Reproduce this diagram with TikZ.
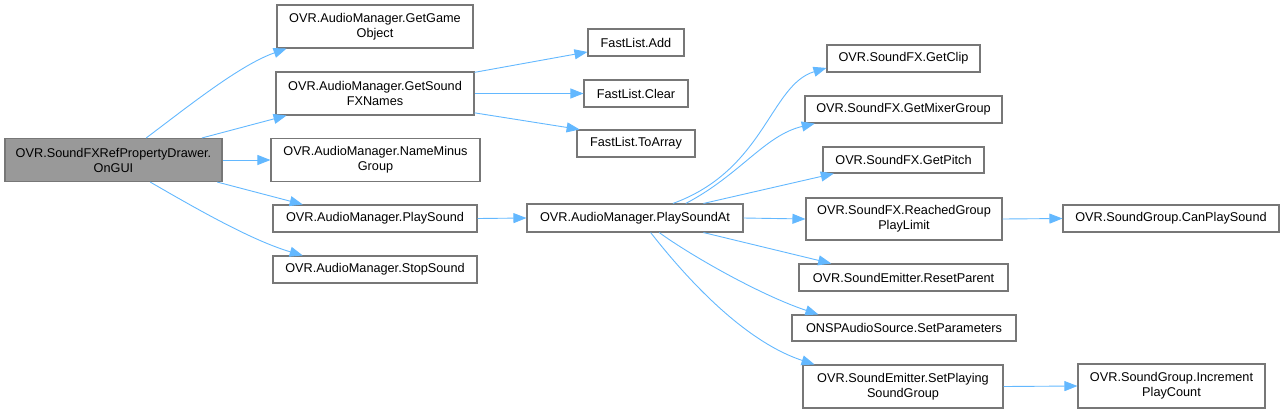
\documentclass[tikz,border=0pt]{standalone}
\usepackage{fontspec}
\setmainfont{Liberation Sans}
\usetikzlibrary{arrows.meta}
\definecolor{edgeblue}{HTML}{63B8FF}
\definecolor{boxgray}{HTML}{777777}
\definecolor{rootgray}{HTML}{999999}

\begin{document}
\begin{tikzpicture}[x=1pt,y=-1pt,
  fn/.style={draw=boxgray,fill=white,line width=1.1pt,inner sep=0pt,align=center,
    font=\fontsize{12.7}{15}\selectfont,minimum height=27pt},
  fn2/.style={fn,minimum height=43pt},
  call/.style={draw=edgeblue,line width=0.9pt,-{Triangle[length=13pt,width=10pt]}}]
\useasboundingbox (0,0) rectangle (1284,413);

% caller
\node[fn2,fill=rootgray,minimum width=217pt] (onGUI) at (113.5,160)
{OVR.SoundFXRefPropertyDrawer.\\OnGUI};

% audio manager
\node[fn2,minimum width=196pt] (getGameObj) at (375,26.5)
{OVR.AudioManager.GetGame\\Object};
\node[fn2,minimum width=198pt] (getFXNames) at (375,93.5)
{OVR.AudioManager.GetSound\\FXNames};
\node[fn2,minimum width=209pt] (nameMinus) at (375.5,160)
{OVR.AudioManager.NameMinus\\Group};
\node[fn,minimum width=204pt] (playSound) at (375,218.5)
{OVR.AudioManager.PlaySound};
\node[fn,minimum width=204pt] (stopSound) at (375,269.5)
{OVR.AudioManager.StopSound};
\node[fn,minimum width=216pt,minimum height=28pt] (playSoundAt) at (635,218)
{OVR.AudioManager.PlaySoundAt};

% fast list
\node[fn,minimum width=96pt] (listAdd) at (636,42.5)
{FastList.Add};
\node[fn,minimum width=104pt] (listClear) at (636,93.5)
{FastList.Clear};
\node[fn,minimum width=118pt] (listToArray) at (636,143.5)
{FastList.ToArray};

% sound fx / emitter
\node[fn,minimum width=153pt] (getClip) at (903.5,58.5)
{OVR.SoundFX.GetClip};
\node[fn,minimum width=197pt] (getMixer) at (903.5,109.5)
{OVR.SoundFX.GetMixerGroup};
\node[fn,minimum width=161pt,minimum height=26pt] (getPitch) at (903.5,160)
{OVR.SoundFX.GetPitch};
\node[fn2,minimum width=196pt,minimum height=42pt] (reachedLimit) at (904,219)
{OVR.SoundFX.ReachedGroup\\PlayLimit};
\node[fn,minimum width=209pt] (resetParent) at (903.5,277.5)
{OVR.SoundEmitter.ResetParent};
\node[fn,minimum width=224pt,minimum height=26pt] (setParams) at (904,328)
{ONSPAudioSource.SetParameters};
\node[fn2,minimum width=200pt] (setPlaying) at (903,386.5)
{OVR.SoundEmitter.SetPlaying\\SoundGroup};

% sound group
\node[fn,minimum width=216pt] (canPlay) at (1171,218.5)
{OVR.SoundGroup.CanPlaySound};
\node[fn2,minimum width=187pt,minimum height=44pt] (incPlay) at (1171.5,386)
{OVR.SoundGroup.Increment\\PlayCount};

\draw[call] (onGUI.34) .. controls (190,105) and (240,65) .. (getGameObj.194);
\draw[call] (onGUI.14) -- (getFXNames.194);
\draw[call] (onGUI.east) -- (nameMinus.west);
\draw[call] (onGUI.-12) -- (playSound.169);
\draw[call] (onGUI.-31) .. controls (190,205) and (250,240) .. (stopSound.169);

\draw[call] (getFXNames.12) -- (listAdd.191);
\draw[call] (getFXNames.east) -- (listClear.west);
\draw[call] (getFXNames.-11) -- (listToArray.166);

\draw[call] (playSound.east) -- (playSoundAt.west);

\draw[call] (playSoundAt.21) .. controls (765,170) and (770,85) .. (getClip.187);
\draw[call] (playSoundAt.16) .. controls (740,175) and (765,135) .. (getMixer.189);
\draw[call] (playSoundAt.12) -- (getPitch.191);
\draw[call] (playSoundAt.east) -- (reachedLimit.west);
\draw[call] (playSoundAt.-12) -- (resetParent.169);
\draw[call] (playSoundAt.-31) .. controls (690,255) and (760,295) .. (setParams.171);
\draw[call] (playSoundAt.-43) .. controls (680,270) and (740,340) .. (setPlaying.166);

\draw[call] (reachedLimit.east) -- (canPlay.west);
\draw[call] (setPlaying.east) -- (incPlay.west);
\end{tikzpicture}
\end{document}
